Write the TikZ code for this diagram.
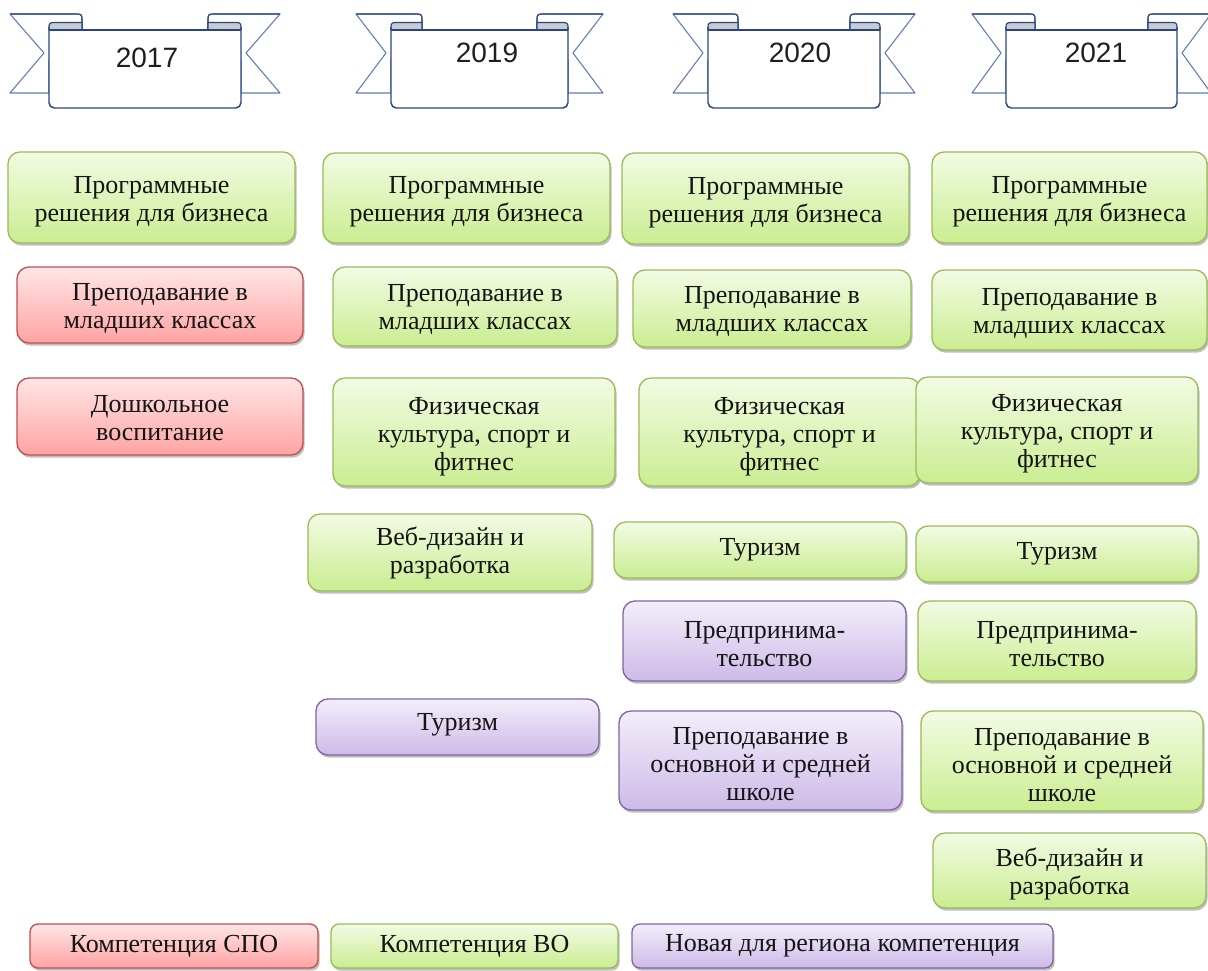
\documentclass[tikz,border=0pt]{standalone}
\usepackage{fontspec}
\setmainfont{Liberation Serif}
\newfontfamily\yearfont{Liberation Sans}
\usetikzlibrary{shadows}
\definecolor{gtop}{RGB}{243,251,228}
\definecolor{gbot}{RGB}{202,237,145}
\definecolor{gdraw}{RGB}{155,187,89}
\definecolor{rtop}{RGB}{255,230,230}
\definecolor{rbot}{RGB}{255,163,163}
\definecolor{rdraw}{RGB}{192,80,77}
\definecolor{ptop}{RGB}{242,238,250}
\definecolor{pbot}{RGB}{206,186,232}
\definecolor{pdraw}{RGB}{128,100,162}
\definecolor{ribbonblue}{RGB}{40,70,130}
\definecolor{tailblue}{RGB}{95,125,180}
\definecolor{curlgray}{RGB}{200,203,208}
\tikzset{
  boxbase/.style={rounded corners=9pt, line width=1pt, inner sep=0pt,
    drop shadow={shadow xshift=1.2pt, shadow yshift=-2pt, fill=black!55, opacity=0.45}},
  gbox/.style={boxbase, draw=gdraw, top color=gtop, bottom color=gbot},
  rbox/.style={boxbase, draw=rdraw, top color=rtop, bottom color=rbot},
  pbox/.style={boxbase, draw=pdraw, top color=ptop, bottom color=pbot},
  legendbox/.style={rounded corners=6pt},
  boxtext/.style={inner sep=0pt, align=center, text=black!92, font=\fontsize{19.5}{21}\selectfont},
  tailstyle/.style={fill=white, draw=tailblue, line width=0.8pt, line join=round},
  curlstyle/.style={fill=curlgray, draw=ribbonblue, line width=0.9pt, line join=round},
  panelstyle/.style={draw=ribbonblue, line width=1.1pt},
  yeartext/.style={font=\yearfont\fontsize{21}{24}\selectfont, text=black!88, inner sep=0pt}
}
% \bx{name}{x1}{y1}{x2}{y2}{style}{text shift px}{text}
\newcommand\bx[8]{%
  \pgfmathsetmacro\bxcx{(#2+#4)/2}%
  \pgfmathsetmacro\bxcy{(#3+#5)/2}%
  \pgfmathsetmacro\bxty{(#3+#5)/2+#7}%
  \pgfmathsetmacro\bxw{(#4-#2)*0.75}%
  \pgfmathsetmacro\bxh{(#5-#3)*0.75}%
  \node[#6, minimum width=\bxw pt, minimum height=\bxh pt] (#1) at (\bxcx,\bxcy) {};
  \node[boxtext] (#1-text) at (\bxcx,\bxty) {#8};}
\newcommand\banner[8]{%
  \filldraw[tailstyle] ({#1-#3},14) -- ({#1+#4-5},14) .. controls ({#1+#4-1},14) and ({#1+#4},15) .. ({#1+#4},19) -- ({#1+#4},30) -- ({#1},60) -- ({#1},93) -- ({#1-#3},93) -- ({#1-5},53) -- cycle;
  \filldraw[tailstyle] ({#2+#3},14) -- ({#2-#4+5},14) .. controls ({#2-#4+1},14) and ({#2-#4},15) .. ({#2-#4},19) -- ({#2-#4},30) -- ({#2},60) -- ({#2},93) -- ({#2+#3},93) -- ({#2+5},53) -- cycle;
  \draw[panelstyle, line width=0.9pt] ({#1-#3},14) -- ({#1+#4-5},14) .. controls ({#1+#4-1},14) and ({#1+#4},15) .. ({#1+#4},19) -- ({#1+#4},30);
  \draw[panelstyle, line width=0.9pt] ({#2+#3},14) -- ({#2-#4+5},14) .. controls ({#2-#4+1},14) and ({#2-#4},15) .. ({#2-#4},19) -- ({#2-#4},30);
  \filldraw[curlstyle] ({#1},30) -- ({#1},27) .. controls ({#1},23.5) and ({#1+1},22.5) .. ({#1+5},22.5) -- ({#1+#4},22.5) -- ({#1+#4},30) -- cycle;
  \filldraw[curlstyle] ({#2},30) -- ({#2},27) .. controls ({#2},23.5) and ({#2-1},22.5) .. ({#2-5},22.5) -- ({#2-#4},22.5) -- ({#2-#4},30) -- cycle;
  \fill[white] ({#1},30) rectangle ({#2},107);
  \draw[panelstyle, rounded corners=4pt] ({#1},27) -- ({#1},108) -- ({#2},108) -- ({#2},27);
  \draw[panelstyle] ({#1},30) -- ({#2},30);
  \node[yeartext] (#5) at (#7,#8) {#6};}
\begin{document}
\begin{tikzpicture}[x=0.75pt, y=-0.75pt]
\useasboundingbox[fill=white] (0,0) rectangle (1208,971);
% banners
\banner{49}{241}{39}{33}{y2017}{2017}{147}{58}
\banner{391}{568}{35}{31}{y2019}{2019}{487}{53}
\banner{708}{880}{35}{30}{y2020}{2020}{800}{53}
\banner{1006}{1177}{34}{29}{y2021}{2021}{1096}{53}
% column 2017
\bx{p17}{8}{152}{295}{243}{gbox}{4}{Программные\\решения для бизнеса}
\bx{t17}{17}{267}{303}{343}{rbox}{3}{Преподавание в\\младших классах}
\bx{d17}{17}{378}{303}{455}{rbox}{2}{Дошкольное\\воспитание}
% column 2019
\bx{p19}{323}{153}{610}{243}{gbox}{4}{Программные\\решения для бизнеса}
\bx{t19}{333}{267}{617}{346}{gbox}{3}{Преподавание в\\младших классах}
\bx{f19}{333}{378}{615}{486}{gbox}{5}{Физическая\\культура, спорт и\\фитнес}
\bx{v19}{308}{514}{592}{591}{gbox}{0}{Веб-дизайн и\\разработка}
\bx{tu19}{316}{699}{599}{755}{pbox}{-2}{Туризм}
% column 2020
\bx{p20}{622}{153}{909}{244}{gbox}{4}{Программные\\решения для бизнеса}
\bx{t20}{633}{270}{911}{347}{gbox}{3}{Преподавание в\\младших классах}
\bx{f20}{639}{378}{920}{486}{gbox}{5}{Физическая\\культура, спорт и\\фитнес}
\bx{tu20}{614}{522}{906}{578}{gbox}{0}{Туризм}
\bx{pr20}{623}{601}{906}{681}{pbox}{3}{Предпринима-\\тельство}
\bx{sh20}{619}{711}{902}{810}{pbox}{4}{Преподавание в\\основной и средней\\школе}
% column 2021
\bx{p21}{932}{152}{1207}{243}{gbox}{4}{Программные\\решения для бизнеса}
\bx{t21}{932}{270}{1207}{350}{gbox}{3}{Преподавание в\\младших классах}
\bx{f21}{916}{377}{1198}{483}{gbox}{4}{Физическая\\культура, спорт и\\фитнес}
\bx{tu21}{916}{526}{1198}{582}{gbox}{0}{Туризм}
\bx{pr21}{918}{601}{1196}{681}{gbox}{3}{Предпринима-\\тельство}
\bx{sh21}{921}{711}{1203}{811}{gbox}{4}{Преподавание в\\основной и средней\\школе}
\bx{v21}{933}{833}{1206}{908}{gbox}{3}{Веб-дизайн и\\разработка}
% legend
\bx{l1}{30}{924}{318}{968}{rbox,legendbox}{0}{Компетенция СПО}
\bx{l2}{331}{924}{618}{968}{gbox,legendbox}{0}{Компетенция ВО}
\bx{l3}{632}{924}{1053}{968}{pbox,legendbox}{0}{Новая для региона компетенция}
\end{tikzpicture}
\end{document}
